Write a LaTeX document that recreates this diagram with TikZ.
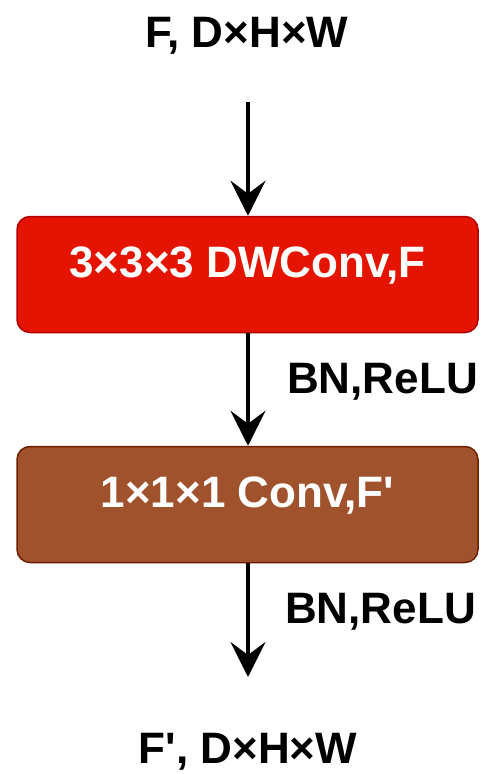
\documentclass[tikz,border=0pt]{standalone}
\usepackage{fontspec}
\setmainfont{Liberation Sans}
\usetikzlibrary{arrows.meta}
\definecolor{convred}{HTML}{E51400}
\definecolor{convredline}{HTML}{B20000}
\definecolor{convbrown}{HTML}{A0522D}
\definecolor{convbrownline}{HTML}{6D1F00}
\tikzset{
	blocktxt/.style={font=\fontsize{44}{52}\selectfont\bfseries, inner sep=0pt},
	convbox/.style={blocktxt, text=white, rounded corners=13pt, line width=1.5pt,
		minimum width=461pt, minimum height=116pt, text height=40pt, text depth=35pt},
	flow/.style={line width=4.5pt, -{Stealth[length=35pt, width=35pt, inset=13pt]}}
}

\begin{document}
\begin{tikzpicture}[x=1pt, y=-1pt]
			%%%%% START %%%%%
			
			\useasboundingbox (0, 0) rectangle (481, 774);
			
			\node[blocktxt, anchor=base] (fin) at (247, 47) {F, D×H×W};
			\coordinate (fintop) at (248, 102);
			
			\node[convbox, fill=convred, draw=convredline] (dwconv) at (247.5, 274.5) {3×3×3 DWConv,F};
			\node[convbox, fill=convbrown, draw=convbrownline] (pwconv) at (247.5, 504.5) {1×1×1 Conv,F\textquotesingle};
			
			\coordinate (foutend) at (248, 677);
			\node[blocktxt, anchor=base] (fout) at (248, 763) {F\textquotesingle, D×H×W};
			
			\draw[flow] (fintop) -- (fintop |- dwconv.north);
			\draw[flow] (fintop |- dwconv.south) -- (fintop |- pwconv.north);
			\draw[flow] (fintop |- pwconv.south) -- (foutend);
			
			\node[blocktxt, anchor=base west] (bnrelua) at (287, 393) {BN,ReLU};
			\node[blocktxt, anchor=base west] (bnrelub) at (285, 623) {BN,ReLU};
			
			%%%%% END %%%%%
		\end{tikzpicture}
\end{document}
